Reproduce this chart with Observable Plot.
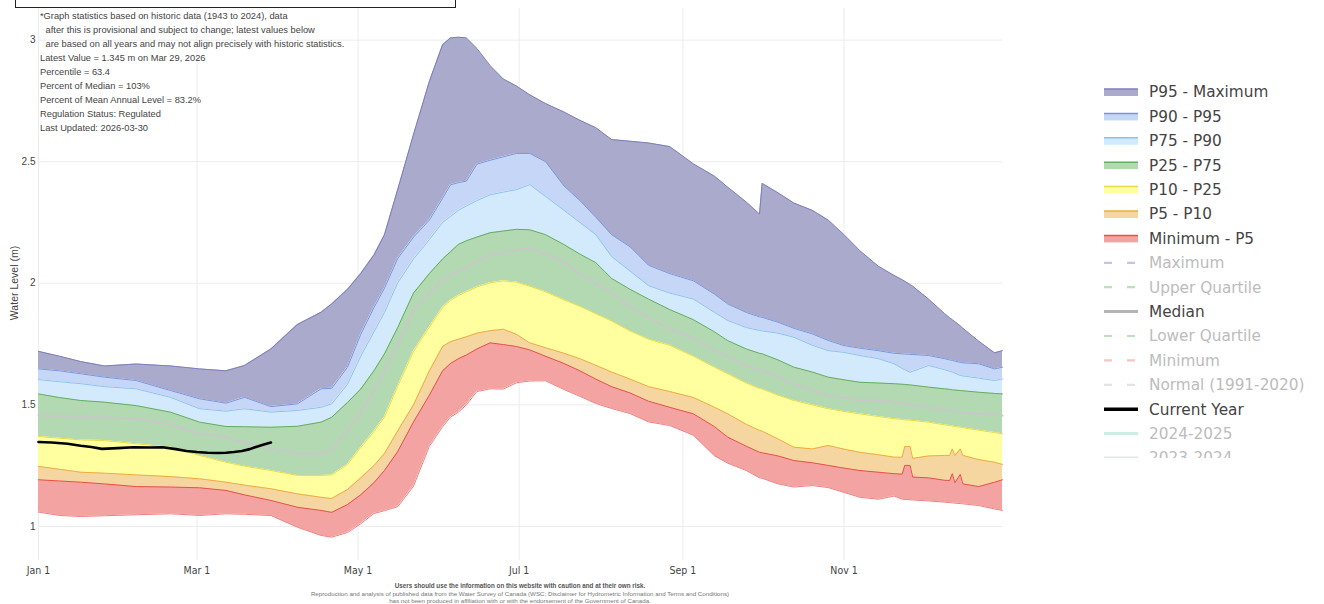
<!DOCTYPE html>
<html>
<head>
<meta charset="utf-8">
<script src="https://cdn.jsdelivr.net/npm/d3@7"></script>
<script src="https://cdn.jsdelivr.net/npm/@observablehq/plot@0.6"></script>
<style>
  html, body { margin: 0; padding: 0; background: #fff; }
  #wrap { position: relative; width: 1324px; height: 604px; overflow: hidden; font-family: "Liberation Sans", Arial, sans-serif; }
  #chart { position: absolute; left: 0; top: 0; }
  #box { position: absolute; left: 15px; top: -10px; width: 439px; height: 16px; border: 1.5px solid #222; }
  #notes { position: absolute; left: 40px; top: 9px; font-size: 9.3px; color: #444; }
  #notes div { height: 14px; line-height: 14px; white-space: pre; }
  #ylabel { position: absolute; left: 14px; top: 283px; transform: translate(-50%, -50%) rotate(-90deg); font-size: 10.5px; color: #444; white-space: nowrap; }
  #legend { position: absolute; left: 1095px; top: 78px; width: 229px; height: 380px; overflow: hidden; }
  #footer { position: absolute; left: 170px; width: 700px; top: 582px; text-align: center; font-family: "Liberation Sans Narrow", "Liberation Sans", Arial, sans-serif; }
  #footer div { font-size: 6.2px; line-height: 7.5px; color: #777; white-space: nowrap; }
  #footer div.b { font-weight: bold; color: #555; font-size: 6.3px; }
</style>
</head>
<body>
<div id="wrap">
  <div id="chart"></div>
  <div id="box"></div>
  <div id="notes"></div>
  <div id="ylabel"></div>
  <div id="legend"></div>
  <div id="footer"></div>
</div>
<script>
// ---- data (day index in a 366-day year, 0 = Jan 1) ----
const days = [0, 8, 16, 25, 37, 50, 61, 71, 78, 88, 98, 107, 111, 117, 122, 127, 131, 136, 142, 148, 153, 156, 159, 162, 166, 171, 176, 181, 186, 192, 199, 205, 211, 217, 224, 231, 239, 248, 256, 261, 268, 273, 274, 280, 286, 293, 299, 305, 311, 318, 324, 327, 328, 330, 331, 337, 343, 345, 346, 347, 349, 350, 356, 362, 365];
const maxV = [1.720, 1.700, 1.678, 1.660, 1.668, 1.660, 1.648, 1.640, 1.662, 1.730, 1.830, 1.881, 1.915, 1.975, 2.040, 2.116, 2.200, 2.385, 2.612, 2.830, 2.981, 3.009, 3.012, 3.009, 2.966, 2.895, 2.840, 2.811, 2.775, 2.739, 2.704, 2.670, 2.640, 2.591, 2.584, 2.577, 2.562, 2.491, 2.440, 2.395, 2.334, 2.285, 2.411, 2.372, 2.330, 2.300, 2.260, 2.200, 2.134, 2.070, 2.032, 2.015, 2.008, 1.995, 1.988, 1.935, 1.876, 1.858, 1.850, 1.842, 1.825, 1.815, 1.762, 1.714, 1.723];
const p95 = [1.648, 1.640, 1.628, 1.614, 1.600, 1.559, 1.525, 1.507, 1.531, 1.493, 1.504, 1.566, 1.568, 1.655, 1.790, 1.900, 1.980, 2.102, 2.190, 2.260, 2.350, 2.405, 2.414, 2.420, 2.490, 2.506, 2.520, 2.534, 2.534, 2.500, 2.400, 2.340, 2.272, 2.200, 2.150, 2.074, 2.040, 2.010, 1.955, 1.915, 1.880, 1.862, 1.860, 1.840, 1.815, 1.792, 1.765, 1.744, 1.733, 1.723, 1.712, 1.710, 1.709, 1.708, 1.707, 1.703, 1.690, 1.685, 1.683, 1.680, 1.675, 1.673, 1.669, 1.648, 1.655];
const p90 = [1.604, 1.595, 1.587, 1.575, 1.566, 1.531, 1.484, 1.474, 1.484, 1.470, 1.477, 1.490, 1.504, 1.585, 1.700, 1.800, 1.880, 2.002, 2.100, 2.180, 2.250, 2.275, 2.300, 2.318, 2.340, 2.364, 2.375, 2.385, 2.406, 2.357, 2.300, 2.250, 2.200, 2.110, 2.050, 1.990, 1.960, 1.935, 1.880, 1.847, 1.818, 1.806, 1.804, 1.795, 1.778, 1.745, 1.723, 1.716, 1.703, 1.690, 1.669, 1.650, 1.645, 1.634, 1.638, 1.662, 1.645, 1.638, 1.635, 1.630, 1.621, 1.619, 1.610, 1.600, 1.607];
const p75 = [1.545, 1.530, 1.518, 1.511, 1.497, 1.470, 1.429, 1.411, 1.410, 1.408, 1.412, 1.429, 1.449, 1.510, 1.565, 1.640, 1.710, 1.818, 1.960, 2.040, 2.100, 2.130, 2.160, 2.175, 2.190, 2.208, 2.215, 2.222, 2.220, 2.200, 2.159, 2.120, 2.085, 2.020, 1.975, 1.935, 1.892, 1.850, 1.800, 1.764, 1.730, 1.712, 1.710, 1.685, 1.655, 1.635, 1.614, 1.603, 1.593, 1.590, 1.587, 1.585, 1.584, 1.582, 1.581, 1.573, 1.566, 1.564, 1.562, 1.561, 1.559, 1.558, 1.552, 1.547, 1.545];
const median = [1.456, 1.454, 1.452, 1.449, 1.443, 1.419, 1.381, 1.367, 1.345, 1.319, 1.299, 1.301, 1.315, 1.398, 1.465, 1.560, 1.640, 1.748, 1.890, 1.960, 2.010, 2.035, 2.050, 2.065, 2.090, 2.116, 2.128, 2.137, 2.144, 2.120, 2.088, 2.038, 2.000, 1.960, 1.903, 1.860, 1.812, 1.775, 1.725, 1.696, 1.660, 1.643, 1.641, 1.615, 1.587, 1.560, 1.538, 1.528, 1.518, 1.518, 1.512, 1.506, 1.504, 1.500, 1.499, 1.490, 1.480, 1.477, 1.476, 1.474, 1.470, 1.469, 1.463, 1.458, 1.456];
const p25 = [1.370, 1.363, 1.356, 1.353, 1.340, 1.326, 1.292, 1.264, 1.248, 1.230, 1.210, 1.210, 1.212, 1.255, 1.325, 1.390, 1.450, 1.577, 1.720, 1.820, 1.900, 1.930, 1.950, 1.965, 1.985, 2.002, 2.010, 2.005, 1.988, 1.965, 1.932, 1.905, 1.875, 1.845, 1.804, 1.770, 1.745, 1.700, 1.655, 1.628, 1.590, 1.567, 1.565, 1.540, 1.518, 1.500, 1.484, 1.473, 1.463, 1.452, 1.443, 1.440, 1.439, 1.437, 1.436, 1.429, 1.418, 1.415, 1.413, 1.411, 1.408, 1.406, 1.396, 1.386, 1.381];
const p10 = [1.247, 1.235, 1.223, 1.219, 1.212, 1.205, 1.196, 1.182, 1.170, 1.155, 1.134, 1.120, 1.115, 1.152, 1.200, 1.250, 1.300, 1.393, 1.500, 1.640, 1.740, 1.760, 1.770, 1.780, 1.795, 1.805, 1.811, 1.790, 1.755, 1.735, 1.712, 1.690, 1.663, 1.635, 1.606, 1.575, 1.555, 1.530, 1.490, 1.463, 1.420, 1.395, 1.392, 1.360, 1.326, 1.319, 1.333, 1.318, 1.305, 1.295, 1.285, 1.285, 1.329, 1.329, 1.280, 1.290, 1.292, 1.292, 1.319, 1.292, 1.319, 1.292, 1.275, 1.264, 1.255];
const p5 = [1.192, 1.187, 1.182, 1.175, 1.164, 1.162, 1.159, 1.148, 1.130, 1.107, 1.079, 1.066, 1.058, 1.090, 1.130, 1.180, 1.230, 1.308, 1.430, 1.540, 1.640, 1.670, 1.690, 1.705, 1.730, 1.755, 1.748, 1.740, 1.726, 1.700, 1.670, 1.640, 1.606, 1.575, 1.549, 1.515, 1.490, 1.463, 1.410, 1.367, 1.330, 1.305, 1.303, 1.290, 1.271, 1.262, 1.251, 1.240, 1.230, 1.223, 1.217, 1.215, 1.251, 1.251, 1.203, 1.200, 1.190, 1.189, 1.217, 1.180, 1.214, 1.175, 1.164, 1.182, 1.192];
const minV = [1.059, 1.045, 1.041, 1.044, 1.048, 1.052, 1.045, 1.052, 1.050, 1.045, 0.997, 0.963, 0.956, 0.975, 1.011, 1.053, 1.065, 1.081, 1.166, 1.330, 1.410, 1.450, 1.470, 1.500, 1.555, 1.566, 1.565, 1.591, 1.598, 1.599, 1.563, 1.535, 1.506, 1.485, 1.464, 1.430, 1.415, 1.375, 1.290, 1.260, 1.230, 1.200, 1.198, 1.175, 1.162, 1.168, 1.160, 1.140, 1.120, 1.112, 1.125, 1.112, 1.111, 1.110, 1.109, 1.105, 1.100, 1.098, 1.097, 1.096, 1.094, 1.093, 1.086, 1.072, 1.066];

const currentDays = [0, 5, 11, 16, 20, 24, 30, 36, 42, 47, 52, 56, 60, 64, 68, 71, 74, 77, 80, 82, 85, 88];
const currentVals = [1.347, 1.345, 1.340, 1.332, 1.327, 1.319, 1.322, 1.326, 1.325, 1.326, 1.318, 1.310, 1.306, 1.303, 1.302, 1.303, 1.306, 1.310, 1.318, 1.326, 1.336, 1.345];

const tickDays = [0, 60, 121, 182, 244, 305];
const tickLabels = ["Jan 1", "Mar 1", "May 1", "Jul 1", "Sep 1", "Nov 1"];
const yTicks = [1, 1.5, 2, 2.5, 3];

const noteLines = [
  "*Graph statistics based on historic data (1943 to 2024), data",
  " after this is provisional and subject to change; latest values below",
  " are based on all years and may not align precisely with historic statistics.",
  "Latest Value = 1.345 m on Mar 29, 2026",
  "Percentile = 63.4",
  "Percent of Median = 103%",
  "Percent of Mean Annual Level = 83.2%",
  "Regulation Status: Regulated",
  "Last Updated: 2026-03-30"
];
const footerLines = [
  "Users should use the information on this website with caution and at their own risk.",
  "Reproduction and analysis of published data from the Water Survey of Canada (WSC; Disclaimer for Hydrometric Information and Terms and Conditions)",
  "has not been produced in affiliation with or with the endorsement of the Government of Canada."
];
const yLabel = "Water Level (m)";

// ---- build table ----
const rows = days.map((d, i) => ({
  day: d, max: maxV[i], p95: p95[i], p90: p90[i], p75: p75[i], median: median[i],
  p25: p25[i], p10: p10[i], p5: p5[i], min: minV[i]
}));
const current = currentDays.map((d, i) => ({day: d, value: currentVals[i]}));

const bands = [
  {label: "P95 - Maximum", lo: "p95", hi: "max", fill: "#aaaacc", stroke: "#7f7fb9"},
  {label: "P90 - P95", lo: "p90", hi: "p95", fill: "#c6d6f6", stroke: "#7896dc"},
  {label: "P75 - P90", lo: "p75", hi: "p90", fill: "#d3eafc", stroke: "#8ec2ef"},
  {label: "P25 - P75", lo: "p25", hi: "p75", fill: "#b2d9b2", stroke: "#62ae62"},
  {label: "P10 - P25", lo: "p10", hi: "p25", fill: "#ffff9f", stroke: "#e2dc4a"},
  {label: "P5 - P10", lo: "p5", hi: "p10", fill: "#f6d6a0", stroke: "#f0ad3c"},
  {label: "Minimum - P5", lo: "min", hi: "p5", fill: "#f4a3a3", stroke: "#e5553f"}
];

const tickLabelOf = new Map(tickDays.map((d, i) => [d, tickLabels[i]]));

const marks = [
  Plot.gridY(yTicks, {stroke: "#ececec", strokeOpacity: 1}),
  Plot.gridX(tickDays, {stroke: "#ececec", strokeOpacity: 1})
];
for (const b of bands) {
  marks.push(Plot.areaY(rows, {x: "day", y1: b.lo, y2: b.hi, fill: b.fill, fillOpacity: 1}));
}
for (const b of bands) {
  marks.push(Plot.line(rows, {x: "day", y: b.hi, stroke: b.stroke, strokeWidth: 1}));
}
marks.push(Plot.line(rows, {x: "day", y: "min", stroke: "#ef8080", strokeWidth: 1}));
marks.push(Plot.line(rows, {x: "day", y: "median", stroke: "#c8c8c8", strokeWidth: 2}));
marks.push(Plot.line(current, {x: "day", y: "value", stroke: "#000", strokeWidth: 2.6}));
marks.push(Plot.axisX(tickDays, {tickFormat: d => tickLabelOf.get(d), tickSize: 0, tickPadding: 6, label: null, fill: "#444", fontSize: 10.5, fontFamily: "'Liberation Sans Narrow', 'DejaVu Sans Condensed', 'Liberation Sans', sans-serif"}));
marks.push(Plot.axisY(yTicks, {tickFormat: d => String(d), tickSize: 0, tickPadding: 3, label: null, fill: "#444", fontSize: 10}));

const chart = Plot.plot({
  width: 1050,
  height: 604,
  marginLeft: 38,
  marginRight: 48,
  marginTop: 8,
  marginBottom: 44,
  style: {fontFamily: "'Liberation Sans', Arial, sans-serif", fontSize: "10px", color: "#444", background: "transparent"},
  x: {domain: [0, 365]},
  y: {domain: [0.86, 3.13]},
  marks
});
document.getElementById("chart").appendChild(chart);

// ---- notes ----
const notes = document.getElementById("notes");
noteLines.forEach((t, i) => {
  const div = document.createElement("div");
  div.textContent = t;
  if (i === 1 || i === 2) div.style.paddingLeft = "3px";
  notes.appendChild(div);
});
document.getElementById("ylabel").textContent = yLabel;

const footer = document.getElementById("footer");
footerLines.forEach((t, i) => {
  const div = document.createElement("div");
  div.textContent = t;
  if (i === 0) div.className = "b";
  footer.appendChild(div);
});

// ---- legend ----
const legendItems = [
  ...bands.map(b => ({label: b.label, kind: "band", fill: b.fill, stroke: b.stroke, active: true})),
  {label: "Maximum", kind: "dash", stroke: "#8d8dc4", active: false},
  {label: "Upper Quartile", kind: "dash", stroke: "#7cc27c", active: false},
  {label: "Median", kind: "line", stroke: "#b4b4b4", width: 3, active: true},
  {label: "Lower Quartile", kind: "dash", stroke: "#7cc27c", active: false},
  {label: "Minimum", kind: "dash", stroke: "#f08c8c", active: false},
  {label: "Normal (1991-2020)", kind: "dash", stroke: "#c8c8c8", active: false},
  {label: "Current Year", kind: "line", stroke: "#000", width: 3.5, active: true},
  {label: "2024-2025", kind: "line", stroke: "#9fdcc6", width: 3, active: false},
  {label: "2023-2024", kind: "line", stroke: "#b5d9d2", width: 3, active: false}
];
const lsvg = d3.select("#legend").append("svg").attr("width", 229).attr("height", 380);
legendItems.forEach((it, i) => {
  const cy = 14 + 24.4 * i;
  const g = lsvg.append("g").attr("transform", `translate(0,${cy})`);
  const op = it.active ? 1 : 0.5;
  if (it.kind === "band") {
    g.append("rect").attr("x", 9).attr("y", -3).attr("width", 34).attr("height", 7).attr("fill", it.fill);
    g.append("line").attr("x1", 9).attr("x2", 43).attr("y1", -3).attr("y2", -3).attr("stroke", it.stroke).attr("stroke-width", 1.5);
  } else if (it.kind === "dash") {
    g.append("line").attr("x1", 9).attr("x2", 43).attr("y1", 0).attr("y2", 0)
      .attr("stroke", it.stroke).attr("stroke-width", 2.2).attr("stroke-dasharray", "8 15").attr("opacity", op);
  } else {
    g.append("line").attr("x1", 9).attr("x2", 43).attr("y1", 0).attr("y2", 0)
      .attr("stroke", it.stroke).attr("stroke-width", it.width).attr("opacity", op);
  }
  g.append("text").attr("x", 54).attr("y", 0).attr("dy", "0.35em")
    .attr("font-family", "'DejaVu Sans', Verdana, sans-serif").attr("font-size", 15.3)
    .attr("fill", it.active ? "#444" : "#bcbcbc").text(it.label);
});
</script>
</body>
</html>
